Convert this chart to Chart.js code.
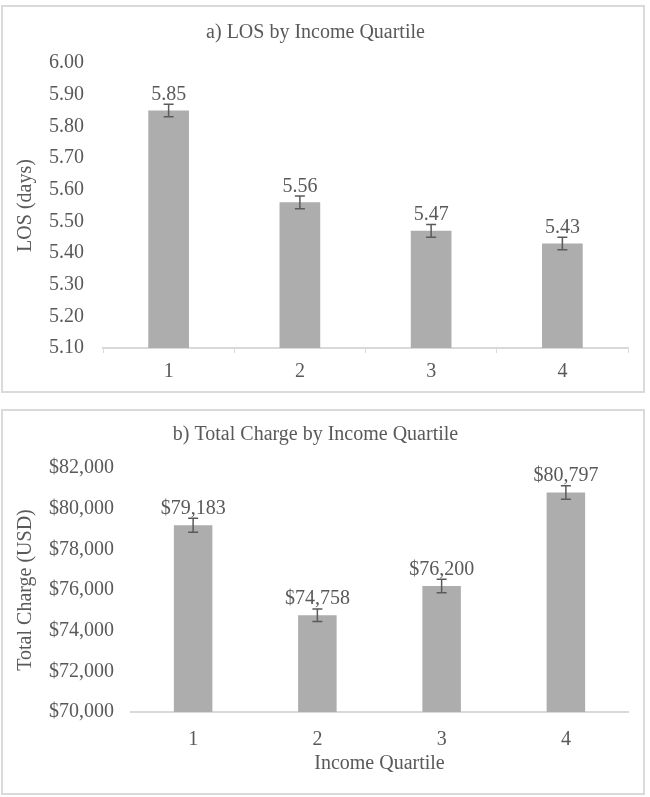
<!DOCTYPE html>
<html>
<head>
<meta charset="utf-8">
<script src="https://cdn.jsdelivr.net/npm/chart.js@4.4.0/dist/chart.umd.min.js"></script>
<style>
  body { margin: 0; background: #fff; }
  .box { position: absolute; left: 1px; width: 640px; border: 2px solid #dadada; }
  #box_los { top: 5px; height: 384px; }
  #box_charge { top: 409px; height: 382px; }
</style>
</head>
<body>
<div class="box" id="box_los"><canvas id="chart_los_quartile"></canvas></div>
<div class="box" id="box_charge"><canvas id="chart_charge_quartile"></canvas></div>
<script>
// data
const quartileLabels = ['1', '2', '3', '4'];
const losValues = [5.85, 5.56, 5.47, 5.43];
const losErrors = [0.02, 0.02, 0.02, 0.02];
const chargeValues = [79183, 74758, 76200, 80797];
const chargeErrors = [345, 310, 330, 335];

const textColor = '#595959';
const barColor = '#adadad';
const axisColor = '#d9d9d9';

Chart.defaults.font.family = "'Liberation Serif', 'Times New Roman', serif";
Chart.defaults.font.size = 20;
Chart.defaults.color = textColor;

// error bars + value labels on top of each bar
const errorBarPlugin = {
  id: 'errorBars',
  afterDatasetsDraw(chart, args, opts) {
    const ctx = chart.ctx;
    const yScale = chart.scales.y;
    const values = chart.data.datasets[0].data;
    ctx.save();
    chart.getDatasetMeta(0).data.forEach(function(bar, i) {
      const yTop = yScale.getPixelForValue(values[i] + opts.errors[i]);
      const yBot = yScale.getPixelForValue(values[i] - opts.errors[i]);
      ctx.strokeStyle = '#5a5a5a';
      ctx.lineWidth = 1.5;
      ctx.beginPath();
      ctx.moveTo(bar.x, yTop);
      ctx.lineTo(bar.x, yBot);
      ctx.moveTo(bar.x - 5, yTop);
      ctx.lineTo(bar.x + 5, yTop);
      ctx.moveTo(bar.x - 5, yBot);
      ctx.lineTo(bar.x + 5, yBot);
      ctx.stroke();

      ctx.fillStyle = textColor;
      ctx.font = "20px 'Liberation Serif', serif";
      ctx.textAlign = 'center';
      ctx.textBaseline = 'alphabetic';
      ctx.fillText(opts.format(values[i]), bar.x, yTop - 4.5);
    });
    ctx.restore();
  }
};

function formatDollar(v) {
  return '$' + Number(v).toLocaleString('en-US');
}

new Chart(document.getElementById('chart_los_quartile'), {
  type: 'bar',
  data: {
    labels: quartileLabels,
    datasets: [{
      data: losValues,
      backgroundColor: barColor,
      borderWidth: 0,
      categoryPercentage: 1,
      barPercentage: 0.31
    }]
  },
  options: {
    responsive: true,
    maintainAspectRatio: false,
    animation: false,
    layout: { padding: { left: 0, right: 15, top: 0, bottom: 0 } },
    plugins: {
      legend: { display: false },
      tooltip: { enabled: false },
      title: {
        display: true,
        text: 'a) LOS by Income Quartile',
        color: textColor,
        font: { size: 20, weight: 'normal' },
        padding: { top: 14, bottom: 18 }
      },
      errorBars: { errors: losErrors, format: function(v) { return v.toFixed(2); } }
    },
    scales: {
      x: {
        grid: { display: true, drawOnChartArea: false, drawTicks: true, tickLength: 5, color: axisColor, offset: true },
        border: { display: true, color: axisColor, width: 2 },
        ticks: { padding: 7 },
        afterFit: function(scale) { scale.height = 43; }
      },
      y: {
        min: 5.1,
        max: 6.0,
        grid: { display: false },
        border: { display: false },
        ticks: { stepSize: 0.1, padding: 11, callback: function(v) { return Number(v).toFixed(2); } },
        title: { display: true, text: 'LOS (days)', padding: { top: 10.6, bottom: 10.6 } },
        afterFit: function(scale) { scale.width = 100; }
      }
    }
  },
  plugins: [errorBarPlugin]
});

new Chart(document.getElementById('chart_charge_quartile'), {
  type: 'bar',
  data: {
    labels: quartileLabels,
    datasets: [{
      data: chargeValues,
      backgroundColor: barColor,
      borderWidth: 0,
      categoryPercentage: 1,
      barPercentage: 0.31
    }]
  },
  options: {
    responsive: true,
    maintainAspectRatio: false,
    animation: false,
    layout: { padding: { left: 0, right: 15, top: 0, bottom: 0 } },
    plugins: {
      legend: { display: false },
      tooltip: { enabled: false },
      title: {
        display: true,
        text: 'b) Total Charge by Income Quartile',
        color: textColor,
        font: { size: 20, weight: 'normal' },
        padding: { top: 12, bottom: 21 }
      },
      errorBars: { errors: chargeErrors, format: formatDollar }
    },
    scales: {
      x: {
        grid: { display: false },
        border: { display: true, color: axisColor, width: 2 },
        ticks: { padding: 8 },
        title: { display: true, text: 'Income Quartile', padding: { top: 17, bottom: 17 } },
        afterFit: function(scale) { scale.height = 81; }
      },
      y: {
        min: 70000,
        max: 82000,
        grid: { display: false },
        border: { display: false },
        ticks: { stepSize: 2000, padding: 9, callback: formatDollar },
        title: { display: true, text: 'Total Charge (USD)', padding: { top: 10.6, bottom: 10.6 } },
        afterFit: function(scale) { scale.width = 128; }
      }
    }
  },
  plugins: [errorBarPlugin]
});
</script>
</body>
</html>
